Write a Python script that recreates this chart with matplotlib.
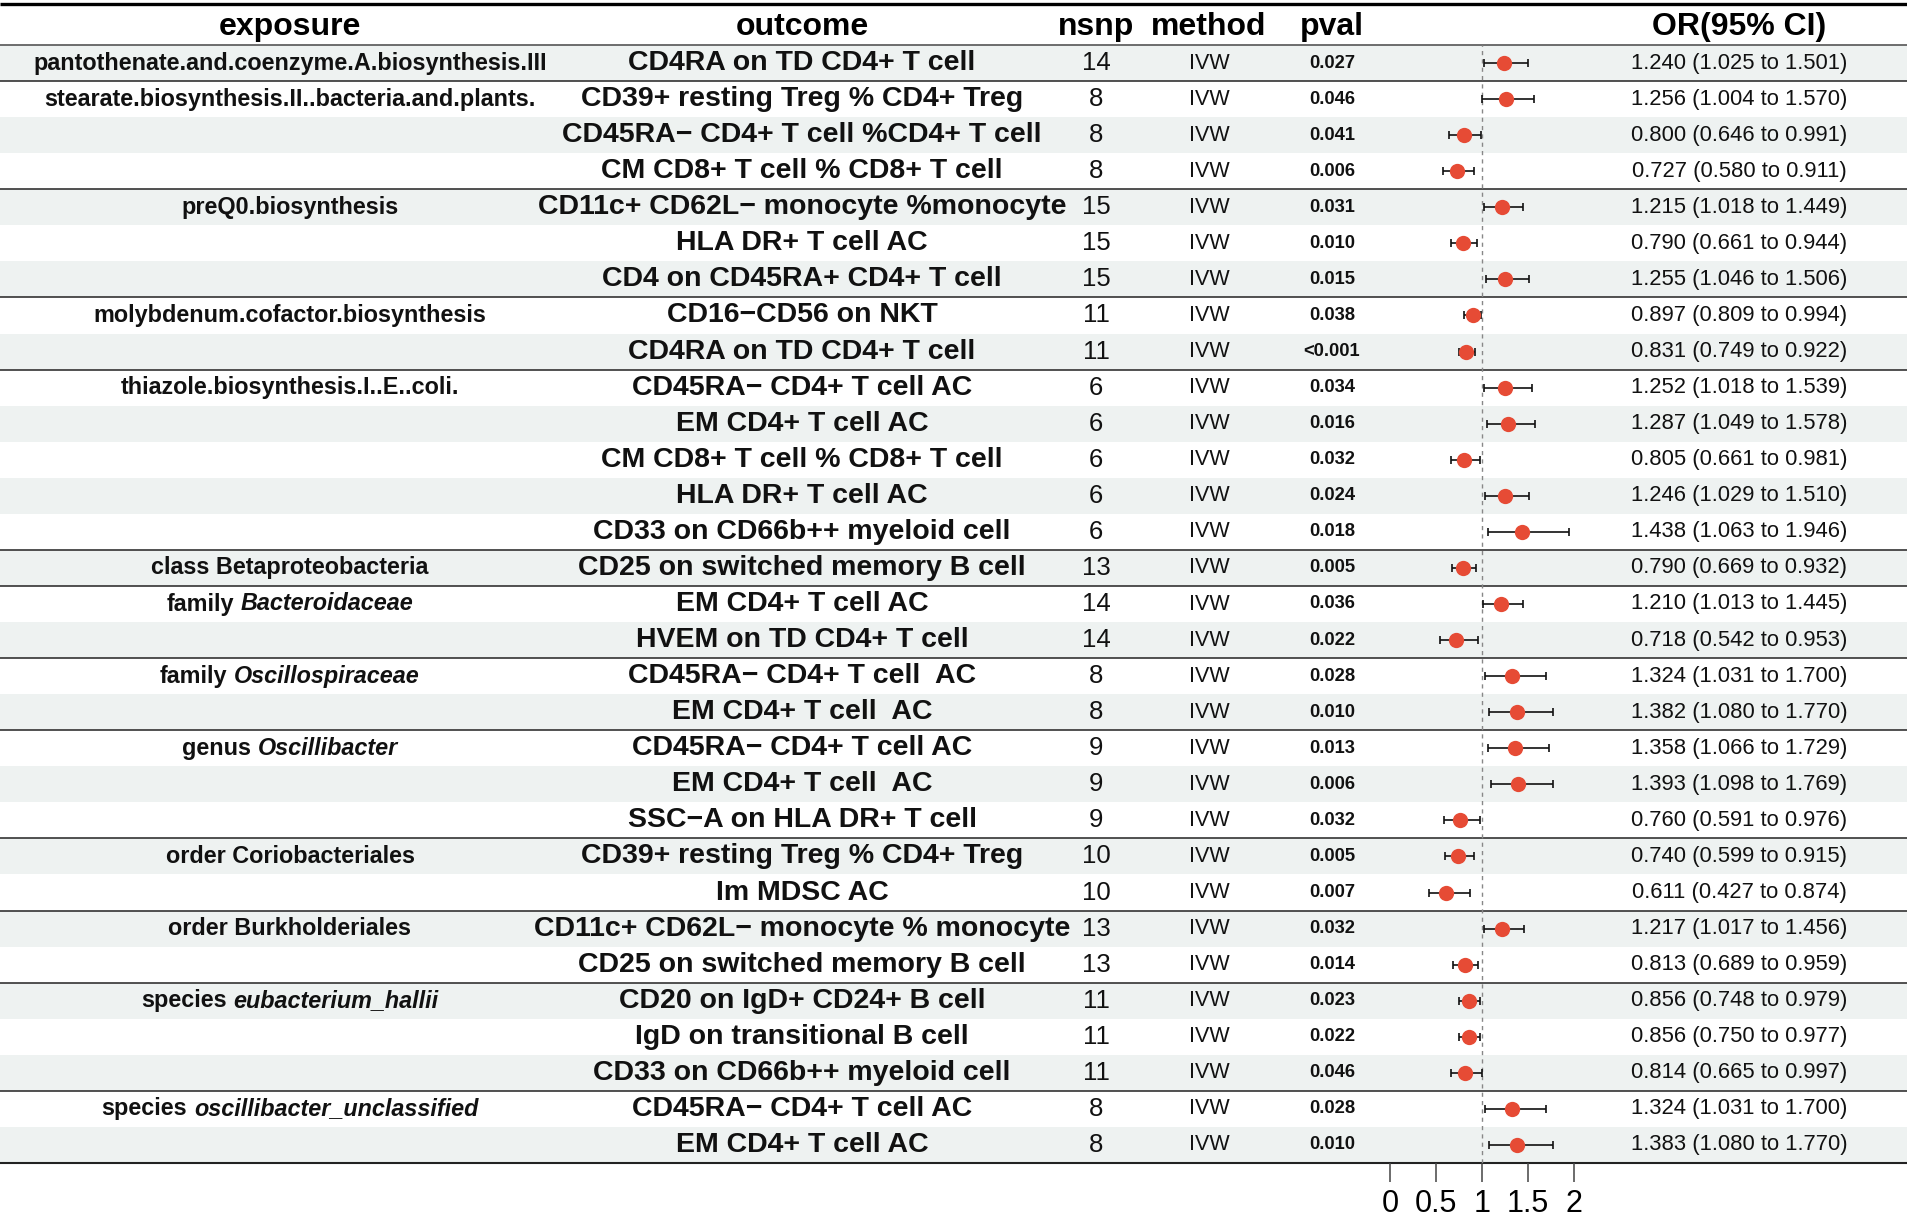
import matplotlib
matplotlib.use('Agg')
import matplotlib.pyplot as plt
from matplotlib.patches import Rectangle
from matplotlib.offsetbox import TextArea, HPacker, AnnotationBbox

FONT = ['Liberation Sans', 'DejaVu Sans']
plt.rcParams['font.family'] = FONT

# ---------------- data ----------------
headers = ["exposure", "outcome", "nsnp", "method", "pval", "OR(95% CI)"]

exposure_text = ["pantothenate.and.coenzyme.A.biosynthesis.III",
                 "stearate.biosynthesis.II..bacteria.and.plants.", "", "",
                 "preQ0.biosynthesis", "", "",
                 "molybdenum.cofactor.biosynthesis", "",
                 "thiazole.biosynthesis.I..E..coli.", "", "", "", "",
                 "class Betaproteobacteria",
                 "family", "",
                 "family", "",
                 "genus", "", "",
                 "order Coriobacteriales", "",
                 "order Burkholderiales", "",
                 "species", "", "",
                 "species", ""]
exposure_ital = ["", "", "", "", "", "", "", "", "", "", "", "", "", "", "",
                 "Bacteroidaceae", "",
                 "Oscillospiraceae", "",
                 "Oscillibacter", "", "",
                 "", "", "", "",
                 "eubacterium_hallii", "", "",
                 "oscillibacter_unclassified", ""]

outcome = ["CD4RA on TD CD4+ T cell", "CD39+ resting Treg % CD4+ Treg",
           "CD45RA\u2212 CD4+ T cell %CD4+ T cell", "CM CD8+ T cell % CD8+ T cell",
           "CD11c+ CD62L\u2212 monocyte %monocyte", "HLA DR+ T cell AC",
           "CD4 on CD45RA+ CD4+ T cell", "CD16\u2212CD56 on NKT",
           "CD4RA on TD CD4+ T cell", "CD45RA\u2212 CD4+ T cell AC",
           "EM CD4+ T cell AC", "CM CD8+ T cell % CD8+ T cell",
           "HLA DR+ T cell AC", "CD33 on CD66b++ myeloid cell",
           "CD25 on switched memory B cell", "EM CD4+ T cell AC",
           "HVEM on TD CD4+ T cell", "CD45RA\u2212 CD4+ T cell  AC",
           "EM CD4+ T cell  AC", "CD45RA\u2212 CD4+ T cell AC",
           "EM CD4+ T cell  AC", "SSC\u2212A on HLA DR+ T cell",
           "CD39+ resting Treg % CD4+ Treg", "Im MDSC AC",
           "CD11c+ CD62L\u2212 monocyte % monocyte", "CD25 on switched memory B cell",
           "CD20 on IgD+ CD24+ B cell", "IgD on transitional B cell",
           "CD33 on CD66b++ myeloid cell", "CD45RA\u2212 CD4+ T cell AC",
           "EM CD4+ T cell AC"]

nsnp = [14, 8, 8, 8, 15, 15, 15, 11, 11, 6, 6, 6, 6, 6, 13, 14, 14, 8, 8,
        9, 9, 9, 10, 10, 13, 13, 11, 11, 11, 8, 8]
method = ["IVW"] * 31
pval = ["0.027", "0.046", "0.041", "0.006", "0.031", "0.010", "0.015", "0.038",
        "<0.001", "0.034", "0.016", "0.032", "0.024", "0.018", "0.005", "0.036",
        "0.022", "0.028", "0.010", "0.013", "0.006", "0.032", "0.005", "0.007",
        "0.032", "0.014", "0.023", "0.022", "0.046", "0.028", "0.010"]
or_val = [1.240, 1.256, 0.800, 0.727, 1.215, 0.790, 1.255, 0.897, 0.831, 1.252,
          1.287, 0.805, 1.246, 1.438, 0.790, 1.210, 0.718, 1.324, 1.382, 1.358,
          1.393, 0.760, 0.740, 0.611, 1.217, 0.813, 0.856, 0.856, 0.814, 1.324, 1.383]
or_lo = [1.025, 1.004, 0.646, 0.580, 1.018, 0.661, 1.046, 0.809, 0.749, 1.018,
         1.049, 0.661, 1.029, 1.063, 0.669, 1.013, 0.542, 1.031, 1.080, 1.066,
         1.098, 0.591, 0.599, 0.427, 1.017, 0.689, 0.748, 0.750, 0.665, 1.031, 1.080]
or_hi = [1.501, 1.570, 0.991, 0.911, 1.449, 0.944, 1.506, 0.994, 0.922, 1.539,
         1.578, 0.981, 1.510, 1.946, 0.932, 1.445, 0.953, 1.700, 1.770, 1.729,
         1.769, 0.976, 0.915, 0.874, 1.456, 0.959, 0.979, 0.977, 0.997, 1.700, 1.770]
xticks = [0, 0.5, 1, 1.5, 2]
xtick_labels = ["0", "0.5", "1", "1.5", "2"]

# ---------------- layout ----------------
W, H = 1907, 1216
fig = plt.figure(figsize=(W / 100, H / 100), dpi=100)
ax = fig.add_axes([0, 0, 1, 1])
ax.set_xlim(0, W)
ax.set_ylim(H, 0)
ax.axis('off')

n = len(outcome)
top_y = 4
head_y = 27
head_bot = 45
row_h = (1163 - head_bot) / n
bottom = head_bot + n * row_h
col_x = [290, 802, 1096, 1209, 1332, 1739]
shade = '#eef2f1'
txt_col = '#111111'

def ry(i):
    return head_bot + (i + 0.5) * row_h

for i in range(n):
    if i % 2 == 0:
        ax.add_patch(Rectangle((0, head_bot + i * row_h), W, row_h,
                               facecolor=shade, edgecolor='none', zorder=0))

# lines
ax.hlines(top_y, 0, W, color='black', lw=2.4, zorder=2)
ax.hlines(head_bot, 0, W, color='#555555', lw=1.2, zorder=2)
for i in range(1, n):
    if exposure_text[i]:
        ax.hlines(head_bot + i * row_h, 0, W, color='#333333', lw=1.2, zorder=2)
ax.hlines(bottom, 0, W, color='#222222', lw=1.5, zorder=2)

# headers
for x, h in zip(col_x, headers):
    ax.text(x, head_y, h, ha='center', va='center', fontsize=23,
            fontweight='bold', color='black')

# exposure column
for i, (t, it) in enumerate(zip(exposure_text, exposure_ital)):
    if not t:
        continue
    props = dict(family=FONT, fontsize=16.8, fontweight='bold', color=txt_col)
    if it:
        boxes = [TextArea(t, textprops=props),
                 TextArea(it, textprops=dict(props, style='italic'))]
        packer = HPacker(children=boxes, align='baseline', pad=0, sep=5)
    else:
        packer = TextArea(t, textprops=props)
    ab = AnnotationBbox(packer, (col_x[0], ry(i)), box_alignment=(0.5, 0.5),
                        frameon=False, pad=0, xycoords='data')
    ax.add_artist(ab)

for i in range(n):
    y = ry(i)
    ax.text(col_x[1], y, outcome[i], ha='center', va='center', fontsize=20.5,
            fontweight='bold', color=txt_col)
    ax.text(col_x[2], y, str(nsnp[i]), ha='center', va='center', fontsize=18.5,
            color=txt_col)
    ax.text(col_x[3], y, method[i], ha='center', va='center', fontsize=15.5,
            color=txt_col)
    ax.text(col_x[4], y, pval[i], ha='center', va='center', fontsize=13.2,
            fontweight='bold', color=txt_col)
    ax.text(col_x[5], y, f"{or_val[i]:.3f} ({or_lo[i]:.3f} to {or_hi[i]:.3f})",
            ha='center', va='center', fontsize=15.8, color=txt_col)

# ---------------- forest axes ----------------
px0, px_per = 1390, 92.0          # pixel of OR=0 and pixels per unit
fx0, fx1 = 1330, 1660
fax = fig.add_axes([fx0 / W, 1 - bottom / H, (fx1 - fx0) / W, (bottom - head_bot) / H])
fax.set_xlim((fx0 - px0) / px_per, (fx1 - px0) / px_per)
fax.set_ylim(n, 0)
fax.patch.set_alpha(0)
for s in fax.spines.values():
    s.set_visible(False)
fax.set_yticks([])
fax.set_xticks(xticks)
fax.set_xticklabels(xtick_labels, fontsize=22)
fax.tick_params(axis='x', length=14, width=1.1, color='#444444', pad=5)

ys = [i + 0.5 for i in range(n)]
fax.axvline(1, color='#888888', lw=1.0, ls=(0, (3, 3)), zorder=1)
xerr = [[o - l for o, l in zip(or_val, or_lo)], [h - o for o, h in zip(or_val, or_hi)]]
fax.errorbar(or_val, ys, xerr=xerr, fmt='none', ecolor='#111111',
             elinewidth=1.2, capsize=3.2, capthick=1.2, zorder=2)
fax.plot(or_val, ys, 'o', color='#E64B35', ms=11, mec='none', zorder=3)

fig.savefig('out.png', dpi=100)
